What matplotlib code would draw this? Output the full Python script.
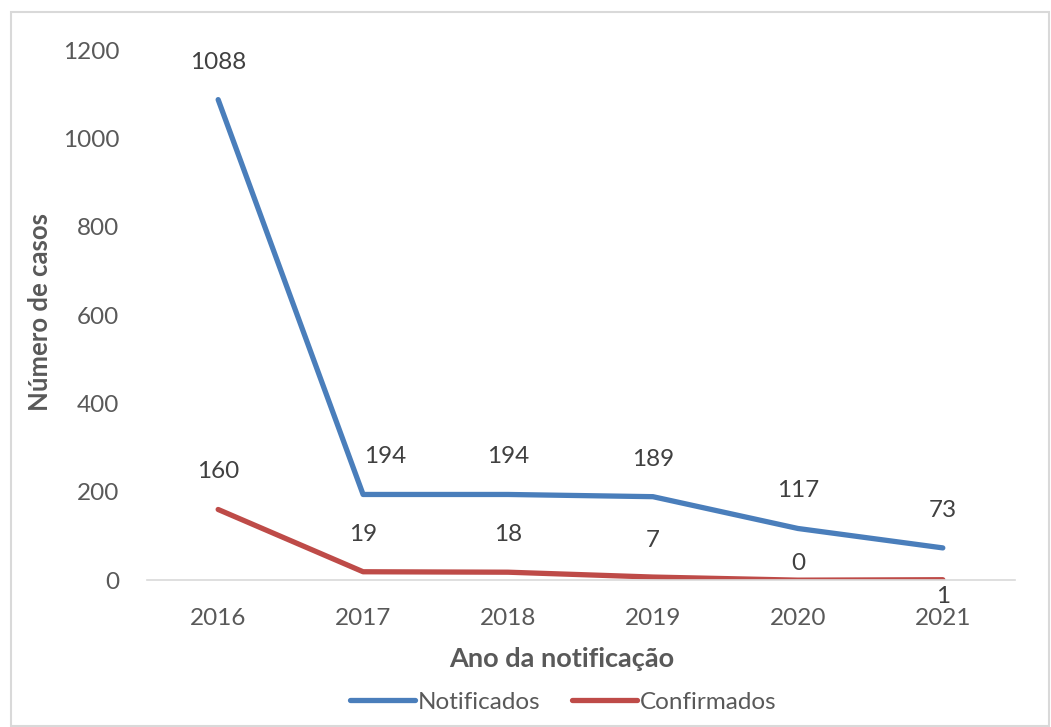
import matplotlib.pyplot as plt
import matplotlib.patches as mpatches

plt.rcParams["font.family"] = ["Lato", "DejaVu Sans"]

# ── Data ──────────────────────────────────────────────────────────────────────
years = ["2016", "2017", "2018", "2019", "2020", "2021"]
notificados = [1088, 194, 194, 189, 117, 73]
confirmados = [160, 19, 18, 7, 0, 1]

BLUE = "#4A7EBB"
RED = "#BE4B48"
TXT = "#595959"
LBL = "#404040"
FS = 17.5

fig = plt.figure(figsize=(10.51, 7.27), dpi=100)
ax = fig.add_axes([0.14, 0.202, 0.826, 0.729])

x = list(range(len(years)))
ax.plot(x, notificados, color=BLUE, linewidth=3.8, solid_capstyle="round",
        solid_joinstyle="round", label="Notificados")
ax.plot(x, confirmados, color=RED, linewidth=3.8, solid_capstyle="round",
        solid_joinstyle="round", label="Confirmados")

# data labels (Excel "above"; a few nudged like in the original)
for i, (xi, v) in enumerate(zip(x, notificados)):
    dx = 16 if i == 1 else 0
    ax.annotate(str(v), (xi, v), xytext=(dx, 27), textcoords="offset points",
                ha="center", va="center", fontsize=FS, color=LBL)
conf_dy = [27, 27, 27, 26, 12, -12]
for xi, v, dy in zip(x, confirmados, conf_dy):
    ax.annotate(str(v), (xi, v), xytext=(0, dy), textcoords="offset points",
                ha="center", va="center", fontsize=FS, color=LBL)

ax.set_xlim(-0.49, 5.5)
ax.set_ylim(0, 1200)
ax.set_yticks(range(0, 1201, 200))
ax.set_xticks(x)
ax.set_xticklabels(years)
ax.tick_params(length=0, labelsize=FS, colors=TXT)
ax.tick_params(axis="y", pad=20)
ax.tick_params(axis="x", pad=20)
for side in ("top", "right", "left"):
    ax.spines[side].set_visible(False)
ax.spines["bottom"].set_color("#D9D9D9")
ax.spines["bottom"].set_linewidth(1.2)

fig.text(40 / 1051, 1 - 312 / 727, "Número de casos", rotation=90,
         ha="center", va="center", fontsize=18.5, fontweight="bold", color=TXT)
fig.text(562 / 1051, 1 - 659 / 727, "Ano da notificação",
         ha="center", va="center", fontsize=19.5, fontweight="bold", color=TXT)

fig.legend(loc="center", bbox_to_anchor=(563 / 1051, 1 - 702 / 727), ncol=2,
           frameon=False, fontsize=FS, handlelength=2.7, handletextpad=0.1,
           columnspacing=1.3, labelcolor=TXT)

# outer chart border
fig.patches.append(mpatches.Rectangle((11 / 1051, 0.002), 1038 / 1051, 1 - 12 / 727 - 0.002,
                                      transform=fig.transFigure, fill=False,
                                      edgecolor="#D9D9D9", linewidth=1.5))

fig.savefig("out.png", dpi=100)
